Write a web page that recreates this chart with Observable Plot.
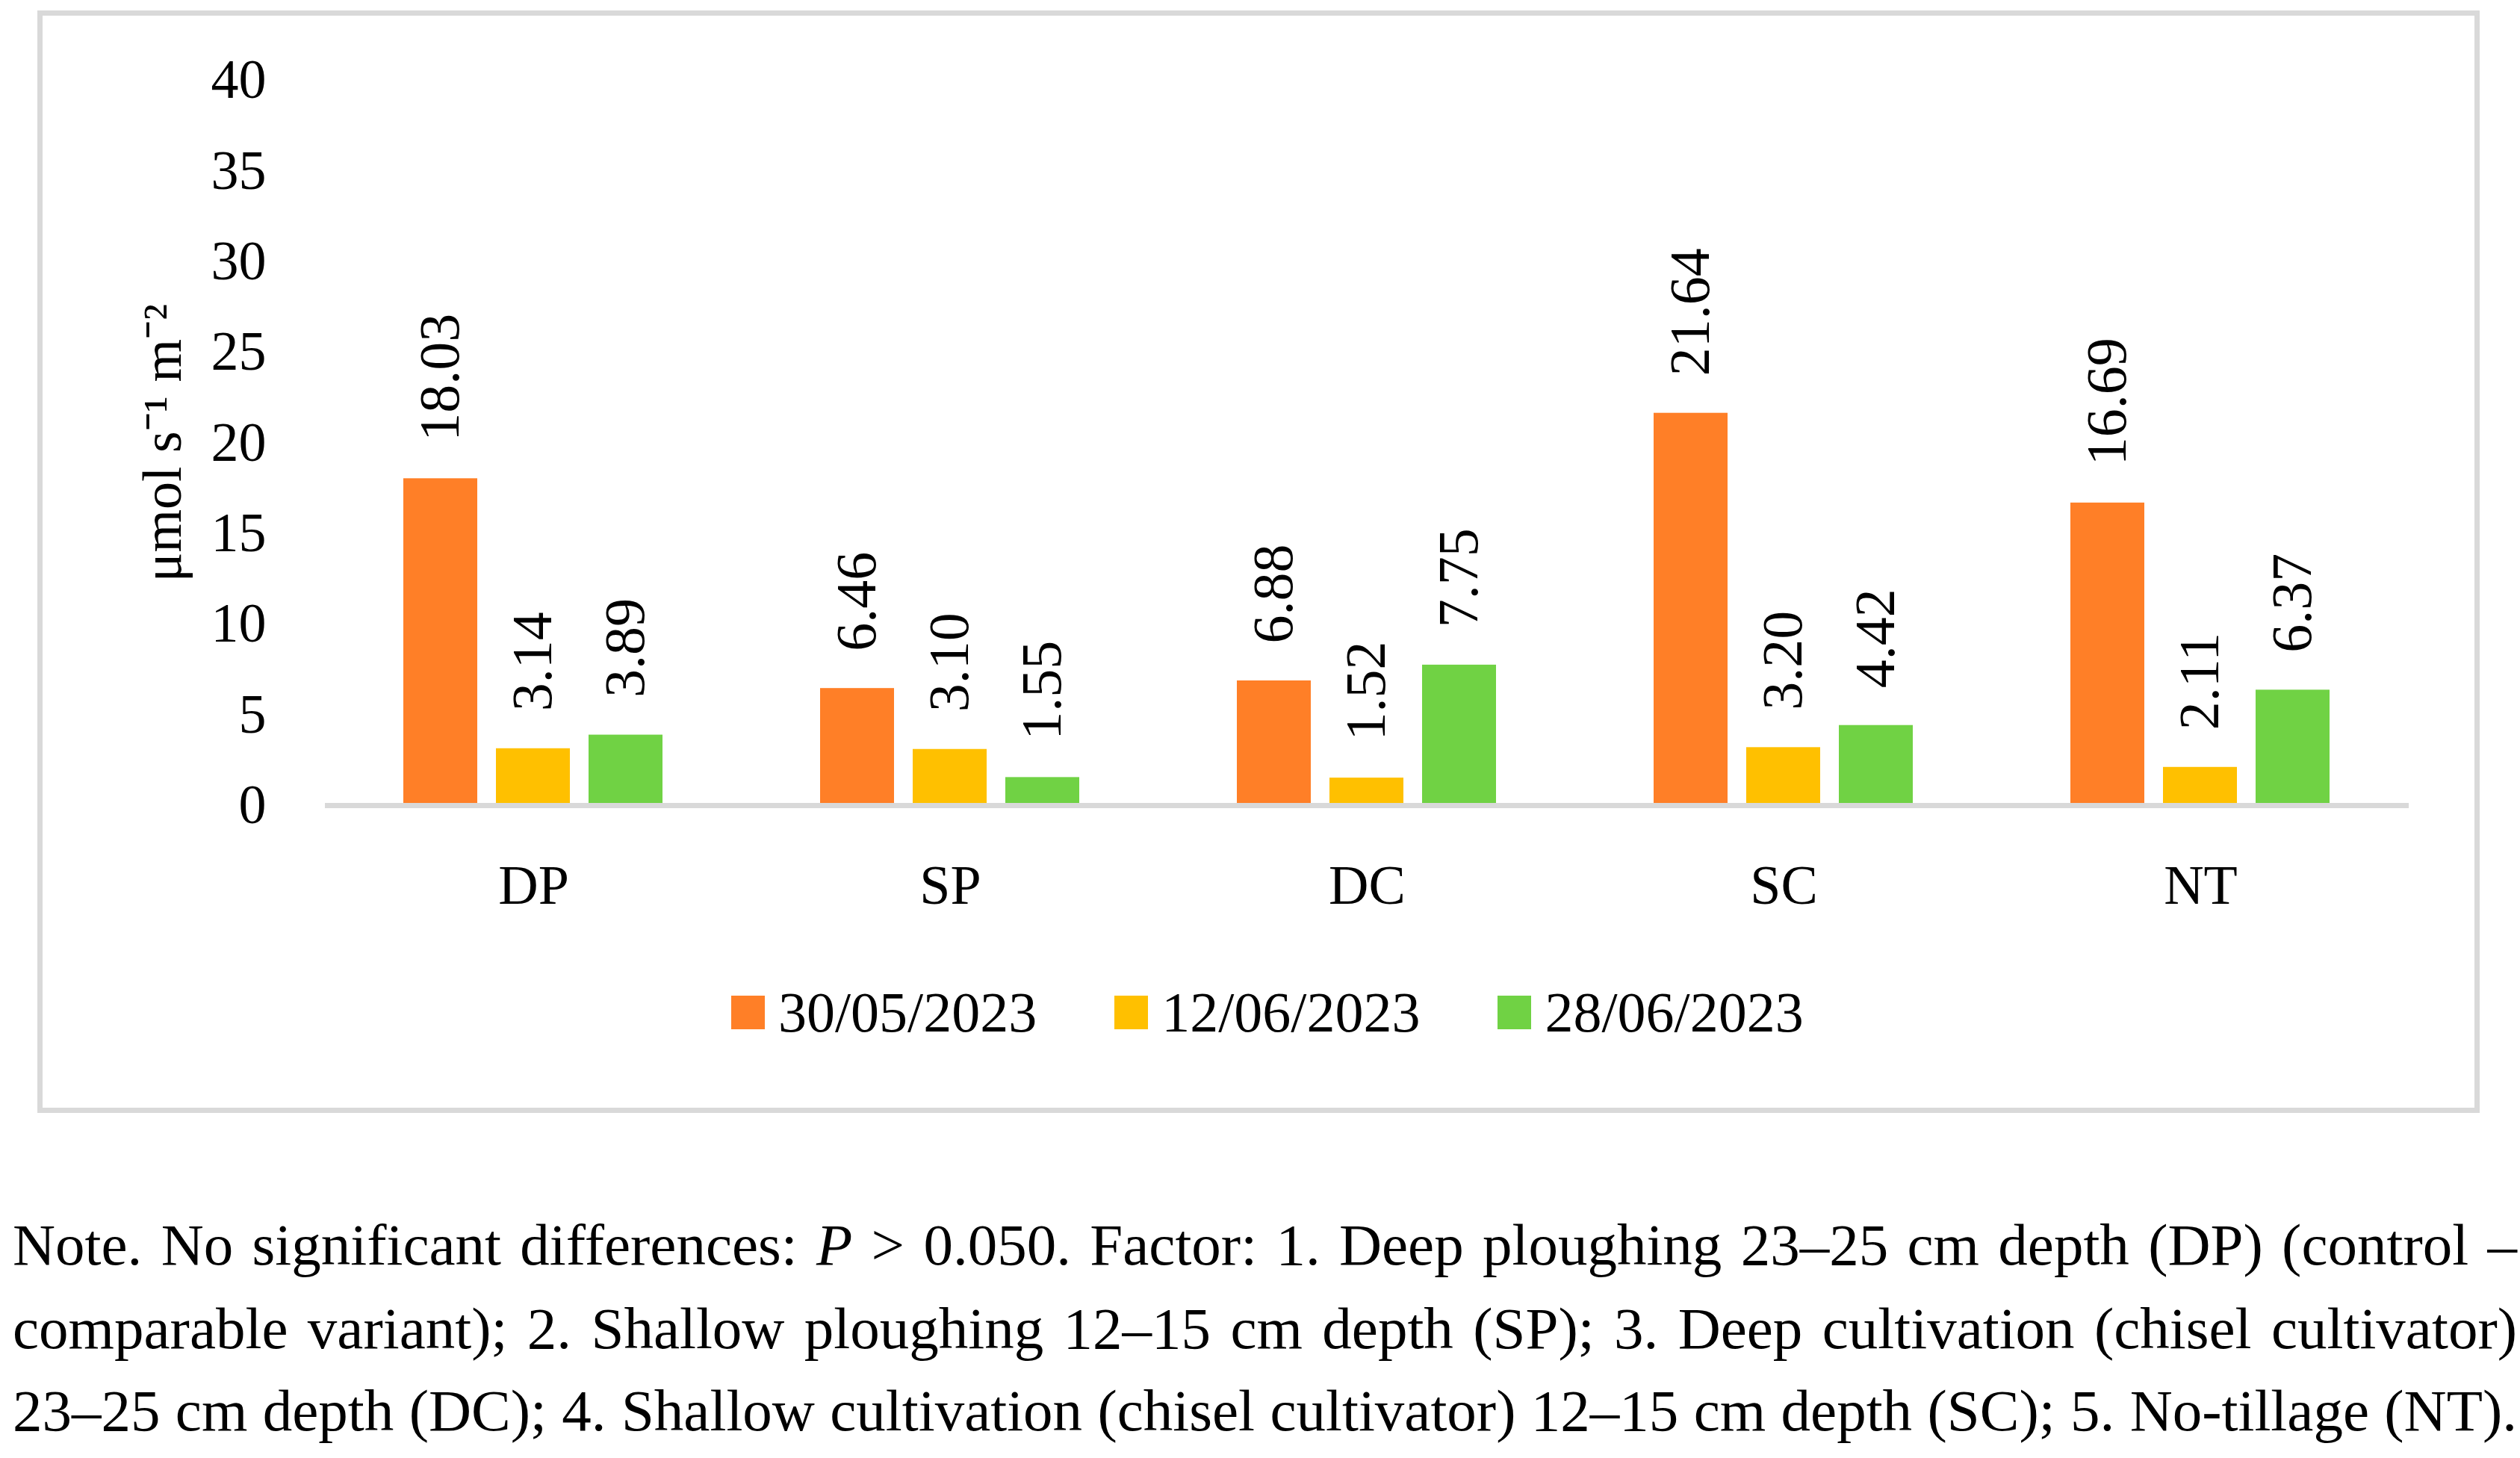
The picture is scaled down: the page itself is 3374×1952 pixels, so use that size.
<!DOCTYPE html>
<html>
<head>
<meta charset="utf-8">
<script src="https://cdn.jsdelivr.net/npm/d3@7"></script>
<script src="https://cdn.jsdelivr.net/npm/@observablehq/plot@0.6"></script>
<style>
  html, body { margin: 0; padding: 0; background: #fff; }
  body { position: relative; width: 3374px; height: 1952px; overflow: hidden; font-family: "Liberation Serif", serif; }
  #frame { position: absolute; left: 50px; top: 14px; width: 3270px; height: 1476px; box-sizing: border-box; border: 7px solid #D9D9D9; }
  #chart { position: absolute; left: 0; top: 0; }
  #legend { position: absolute; left: 979px; top: 1312px; }
  .lg-swatches { font-family: "Liberation Serif", serif; font-size: 76px; margin: 0; color: #000; }
  .lg-swatch > svg { margin-right: 18px; }
  .lg-swatches-wrap .lg-swatch { margin-right: 104px; }
  .note { position: absolute; left: 17px; width: 3353px; font-size: 79px; line-height: 111px;
          text-align: justify; text-align-last: justify; white-space: nowrap; color: #000; }
</style>
</head>
<body>
<div id="frame"></div>
<div id="chart"></div>
<div id="legend"></div>
<div class="note" style="top:1611px">Note. No significant differences: <i>P</i> &gt; 0.050. Factor: 1. Deep ploughing 23–25 cm depth (DP) (control –</div>
<div class="note" style="top:1723px">comparable variant); 2. Shallow ploughing 12–15 cm depth (SP); 3. Deep cultivation (chisel cultivator)</div>
<div class="note" style="top:1833px">23–25 cm depth (DC); 4. Shallow cultivation (chisel cultivator) 12–15 cm depth (SC); 5. No-tillage (NT).</div>
<script>
// tillage variants and sampling dates
const categories = ["DP", "SP", "DC", "SC", "NT"];
const dates = ["30/05/2023", "12/06/2023", "28/06/2023"];
const may30 = [18.03, 6.46, 6.88, 21.64, 16.69];
const jun12 = [3.14, 3.10, 1.52, 3.20, 2.11];
const jun28 = [3.89, 1.55, 7.75, 4.42, 6.37];
const colors = ["#FF7F27", "#FFC000", "#70D244"];
const yTicks = [0, 5, 10, 15, 20, 25, 30, 35, 40];

const series = [may30, jun12, jun28];
const rows = [];
categories.forEach((c, i) => {
  dates.forEach((d, j) => rows.push({cat: c, date: d, value: series[j][i]}));
});

const chart = Plot.plot({
  width: 3374,
  height: 1260,
  marginLeft: 434,
  marginRight: 149,
  marginTop: 107,
  marginBottom: 182,
  style: {fontFamily: "Liberation Serif", fontSize: "74px", color: "#000", background: "transparent"},
  fx: {domain: categories, padding: 0, label: null, tickSize: 0, tickPadding: 79, fontSize: 76},
  x: {domain: dates, paddingInner: 0.2, paddingOuter: 0.85, axis: null},
  y: {domain: [0, 40], ticks: yTicks, tickSize: 0, tickPadding: 79,
      label: "μmol s⁻¹ m⁻²", labelArrow: false, labelAnchor: "center", labelOffset: 246},
  color: {domain: dates, range: colors},
  marks: [
    Plot.barY(rows, {fx: "cat", x: "date", y: "value", fill: "date"}),
    Plot.ruleY([0], {stroke: "#D9D9D9", strokeWidth: 7}),
    Plot.text(rows, {
      fx: "cat", x: "date", y: "value",
      text: d => d.value.toFixed(2),
      rotate: -90, textAnchor: "start", dy: -50,
      fontSize: 76, fill: "#000"
    })
  ]
});
document.getElementById("chart").append(chart);

const legend = Plot.legend({
  color: {domain: dates, range: colors},
  legend: "swatches",
  swatchSize: 45,
  className: "lg"
});
document.getElementById("legend").append(legend);
</script>
</body>
</html>
